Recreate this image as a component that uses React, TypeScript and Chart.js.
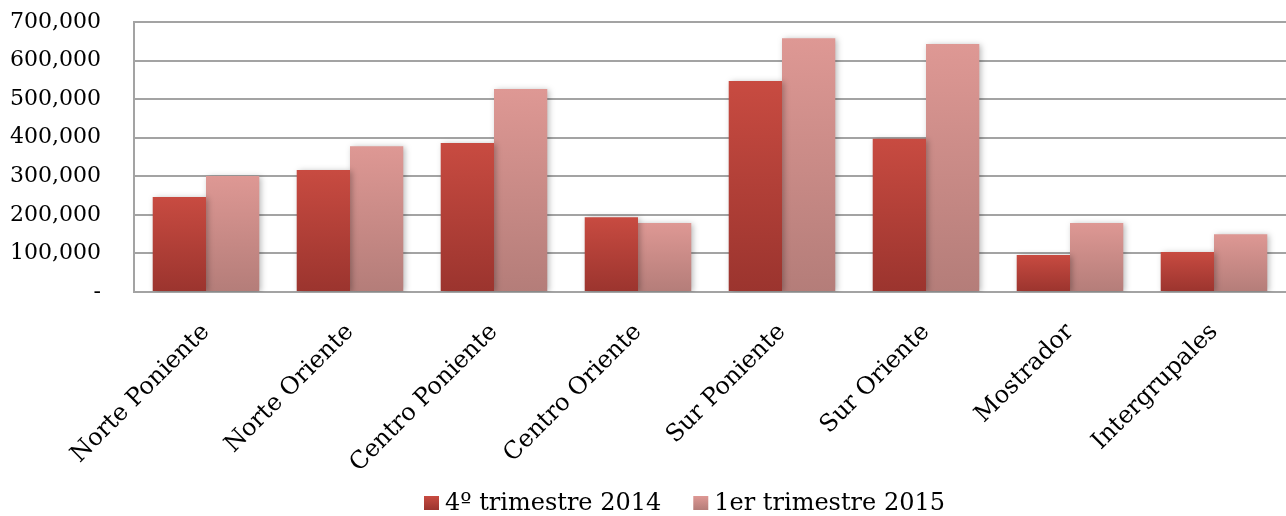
import React, { useEffect, useRef } from "react";
import { Chart, registerables } from "chart.js";

Chart.register(...registerables);

const categories = [
  "Norte Poniente",
  "Norte Oriente",
  "Centro Poniente",
  "Centro Oriente",
  "Sur Poniente",
  "Sur Oriente",
  "Mostrador",
  "Intergrupales",
];
const q4_2014 = [246000, 316000, 386000, 194000, 547000, 397000, 96000, 104000];
const q1_2015 = [301000, 378000, 526000, 179000, 658000, 643000, 179000, 150000];
const seriesNames = ["4º trimestre 2014", "1er trimestre 2015"];
const seriesTop = ["#C84B41", "#DE9894"];
const seriesBottom = ["#9B342E", "#B47D79"];

const FONT = "'DejaVu Serif', serif";

const gradFor = (top: string, bottom: string) => (c: any) => {
  const chart = c.chart;
  if (c.type !== "data" || !chart.scales || !chart.scales.y) return top;
  const ys = chart.scales.y;
  const y0 = ys.getPixelForValue(c.raw);
  const y1 = ys.getPixelForValue(0);
  if (!isFinite(y0) || !isFinite(y1) || y0 === y1) return top;
  const g = chart.ctx.createLinearGradient(0, y0, 0, y1);
  g.addColorStop(0, top);
  g.addColorStop(1, bottom);
  return g;
};

const shadowPlugin = {
  id: "barShadow",
  beforeDatasetsDraw(chart: any) {
    const ctx = chart.ctx;
    ctx.save();
    ctx.shadowColor = "rgba(0,0,0,0.28)";
    ctx.shadowBlur = 6;
    ctx.shadowOffsetX = 2;
    ctx.shadowOffsetY = 1;
  },
  afterDatasetsDraw(chart: any) {
    chart.ctx.restore();
  },
};

const legendPlugin = {
  id: "customLegend",
  afterDraw(chart: any) {
    const ctx = chart.ctx;
    ctx.save();
    ctx.font = `24px ${FONT}`;
    ctx.textBaseline = "middle";
    const cy = 503;
    let x = 424;
    seriesNames.forEach((name, i) => {
      const g = ctx.createLinearGradient(0, cy - 7, 0, cy + 7);
      g.addColorStop(0, seriesTop[i]);
      g.addColorStop(1, seriesBottom[i]);
      ctx.fillStyle = g;
      ctx.fillRect(x, cy - 7, 15, 14);
      x += 21;
      ctx.fillStyle = "#000";
      ctx.fillText(name, x, cy + 1);
      x += ctx.measureText(name).width + 32;
    });
    ctx.restore();
  },
};

export default function App() {
  const ref = useRef<HTMLCanvasElement>(null);
  useEffect(() => {
    if (!ref.current) return;
    const chart = new Chart(ref.current, {
      type: "bar",
      data: {
        labels: categories,
        datasets: [
          {
            label: seriesNames[0],
            data: q4_2014,
            backgroundColor: gradFor(seriesTop[0], seriesBottom[0]),
            barPercentage: 1,
            categoryPercentage: 0.74,
          },
          {
            label: seriesNames[1],
            data: q1_2015,
            backgroundColor: gradFor(seriesTop[1], seriesBottom[1]),
            barPercentage: 1,
            categoryPercentage: 0.74,
          },
        ],
      },
      options: {
        animation: false,
        responsive: true,
        maintainAspectRatio: false,
        layout: { padding: { top: 22, right: 0, left: 0, bottom: 0 } },
        plugins: {
          tooltip: { enabled: false },
          legend: { display: false },
        },
        scales: {
          x: {
            grid: { display: false },
            border: { display: true, color: "#A3A3A3", width: 2 },
            ticks: {
              font: { family: FONT, size: 24 },
              color: "#000",
              minRotation: 45,
              maxRotation: 45,
              autoSkip: false,
              padding: 18,
            },
            afterFit: (s: any) => {
              s.height = 224;
            },
          },
          y: {
            min: 0,
            max: 700000,
            grid: {
              color: "#A3A3A3",
              lineWidth: 2,
              drawTicks: true,
              tickLength: 33,
              tickColor: "rgba(0,0,0,0)",
            },
            border: { display: true, color: "#A3A3A3", width: 2 },
            ticks: {
              stepSize: 100000,
              font: { family: FONT, size: 22 },
              color: "#000",
              padding: 0,
              callback: (v: any) => (Number(v) === 0 ? "-" : Number(v).toLocaleString("en-US")),
            },
            afterFit: (s: any) => {
              s.width = 134;
            },
          },
        },
      },
      plugins: [shadowPlugin, legendPlugin],
    });
    return () => chart.destroy();
  }, []);
  return (
    <div style={{ position: "fixed", left: 0, top: 0, width: 1286, height: 516, background: "#fff" }}>
      <canvas ref={ref} />
    </div>
  );
}
